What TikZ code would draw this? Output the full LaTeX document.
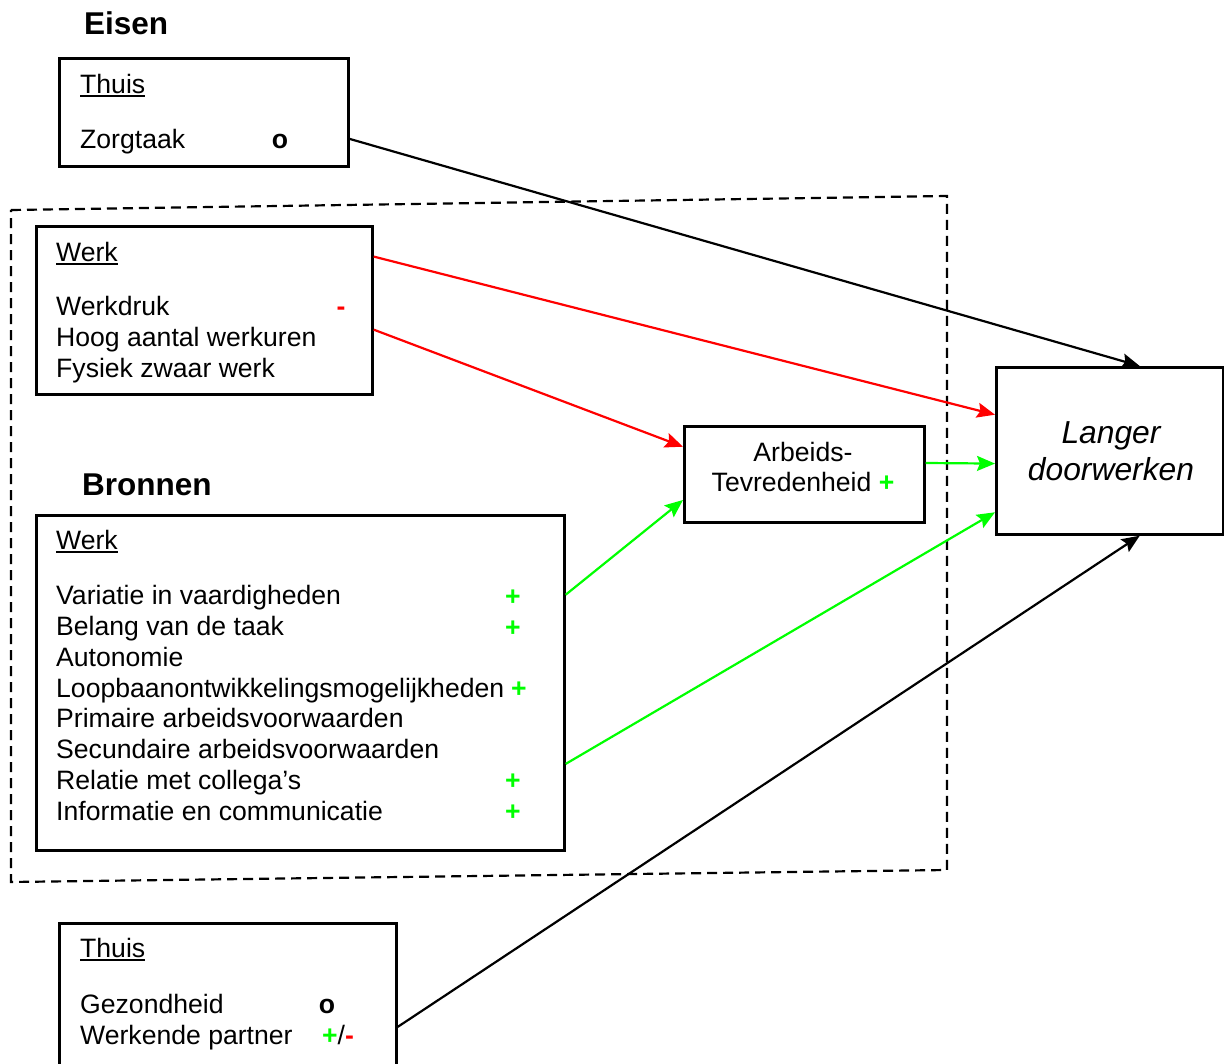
\documentclass[tikz,border=0pt]{standalone}
\usepackage{fontspec}
\setmainfont{Liberation Sans}
\usetikzlibrary{arrows.meta,calc}
\definecolor{pgreen}{RGB}{0,255,0}
\definecolor{pred}{RGB}{255,0,0}
\newcommand\fs{\fontsize{26.6pt}{31pt}\selectfont}
\newcommand\fsh{\fontsize{31.5pt}{36pt}\selectfont\bfseries}
\newcommand\fsi{\fontsize{31.8pt}{37pt}\selectfont\itshape}
\newcommand\ulbox[1]{{\setbox0\hbox{#1}\rlap{\rule[-3.5pt]{\wd0}{2pt}}\box0}}
\newcommand\pluss{{\color{pgreen}\bfseries +}}
\newcommand\minuss{{\color{pred}\bfseries -}}
\tikzset{
  box/.style={draw, line width=2.7pt, inner sep=0pt, anchor=north west},
  txt/.style={anchor=base west, inner sep=0pt, font=\fs},
  ctxt/.style={anchor=base, inner sep=0pt, font=\fs},
  head/.style={anchor=base west, inner sep=0pt, font=\fsh},
  arr/.style={line width=2.2pt, -{Stealth[length=18pt,width=15pt,inset=3pt]}},
}
\begin{document}
\begin{tikzpicture}[x=1pt,y=-1pt]
\useasboundingbox (0,0) rectangle (1224,1064);
\clip (0,0) rectangle (1224,1064);

% group of work demands and resources
\draw[line width=2.2pt, dash pattern=on 10pt off 6pt]
  (11,210) -- (947,196) -- (947,870) -- (11,882) -- cycle;

% Eisen
\node[head] (eisen) at (84,35) {Eisen};
\node[box, minimum width=289pt, minimum height=108pt] (thuisA) at (58,57) {};
\node[txt] (thuisAt) at (80,93.5) {\ulbox{Thuis}};
\node[txt] (zorg) at (80,148.5) {Zorgtaak};
\node[ctxt] (zorgo) at (280,148.5) {\bfseries o};

\node[box, minimum width=336pt, minimum height=168pt] (werkA) at (35,225) {};
\node[txt] (werkAt) at (56,261.5) {\ulbox{Werk}};
\node[txt] (wd1) at (56,316) {Werkdruk};
\node[txt] (wd2) at (56,347) {Hoog aantal werkuren};
\node[txt] (wd3) at (56,378) {Fysiek zwaar werk};
\node[ctxt] (wdm) at (341,316) {\minuss};

% Bronnen
\node[head] (bronnen) at (82,496) {Bronnen};
\node[box, minimum width=528pt, minimum height=335pt] (werkB) at (35,514) {};
\node[txt] (werkBt) at (56,549.5) {\ulbox{Werk}};
\node[txt] (b1) at (56,604.5) {Variatie in vaardigheden};
\node[txt] (b2) at (56,635.5) {Belang van de taak};
\node[txt] (b3) at (56,666.5) {Autonomie};
\node[txt] (b4) at (56,697.5) {Loopbaanontwikkelingsmogelijkheden};
\node[txt] (b5) at (56,727.5) {Primaire arbeidsvoorwaarden};
\node[txt] (b6) at (56,758.5) {Secundaire arbeidsvoorwaarden};
\node[txt] (b7) at (56,789.5) {Relatie met collega’s};
\node[txt] (b8) at (56,820.5) {Informatie en communicatie};
\node[ctxt] (p1) at (513,605.5) {\pluss};
\node[ctxt] (p2) at (513,636.5) {\pluss};
\node[ctxt] (p4) at (519,697.5) {\pluss};
\node[ctxt] (p7) at (513,789.5) {\pluss};
\node[ctxt] (p8) at (513,820.5) {\pluss};

% home resources
\node[box, minimum width=337pt, minimum height=150pt] (thuisB) at (58,922) {};
\node[txt] (thuisBt) at (80,957) {\ulbox{Thuis}};
\node[txt] (gez) at (80,1013.5) {Gezondheid};
\node[ctxt] (gezo) at (327,1013.5) {\bfseries o};
\node[txt] (partner) at (80,1044.5) {Werkende partner};
\node[txt] (partnerpm) at (322,1044.5) {\pluss/\minuss};

% mediator and outcome
\node[box, minimum width=240pt, minimum height=96pt] (arb) at (683,425) {};
\node[ctxt] (arb1) at (803,461) {Arbeids-};
\node[ctxt] (arb2) at (803,491) {Tevredenheid \pluss};

\node[box, minimum width=227pt, minimum height=167pt] (lang) at (995,366) {};
\node[anchor=base, inner sep=0pt, font=\fsi] (lang1) at (1111,443) {Langer};
\node[anchor=base, inner sep=0pt, font=\fsi] (lang2) at (1111,480) {doorwerken};

% effects
\draw[arr] ($(thuisA.north east)!0.74!(thuisA.south east)$)
  -- ($(lang.north west)!0.63!(lang.north east)$);
\draw[arr, pred] ($(werkA.north east)!0.185!(werkA.south east)$)
  -- ($(lang.north west)!0.287!(lang.south west)$);
\draw[arr, pred] ($(werkA.north east)!0.613!(werkA.south east)$)
  -- ($(arb.north west)!0.22!(arb.south west)$);
\draw[arr, pgreen] ($(werkB.north east)!0.239!(werkB.south east)$)
  -- ($(arb.north west)!0.76!(arb.south west)$);
\draw[arr, pgreen] ($(arb.north east)!0.385!(arb.south east)$)
  -- ($(lang.north west)!0.575!(lang.south west)$);
\draw[arr, pgreen] ($(werkB.north east)!0.74!(werkB.south east)$)
  -- ($(lang.north west)!0.862!(lang.south west)$);
\draw[arr] ($(thuisB.north east)!0.687!(thuisB.south east)$)
  -- ($(lang.south west)!0.63!(lang.south east)$);
\end{tikzpicture}
\end{document}
